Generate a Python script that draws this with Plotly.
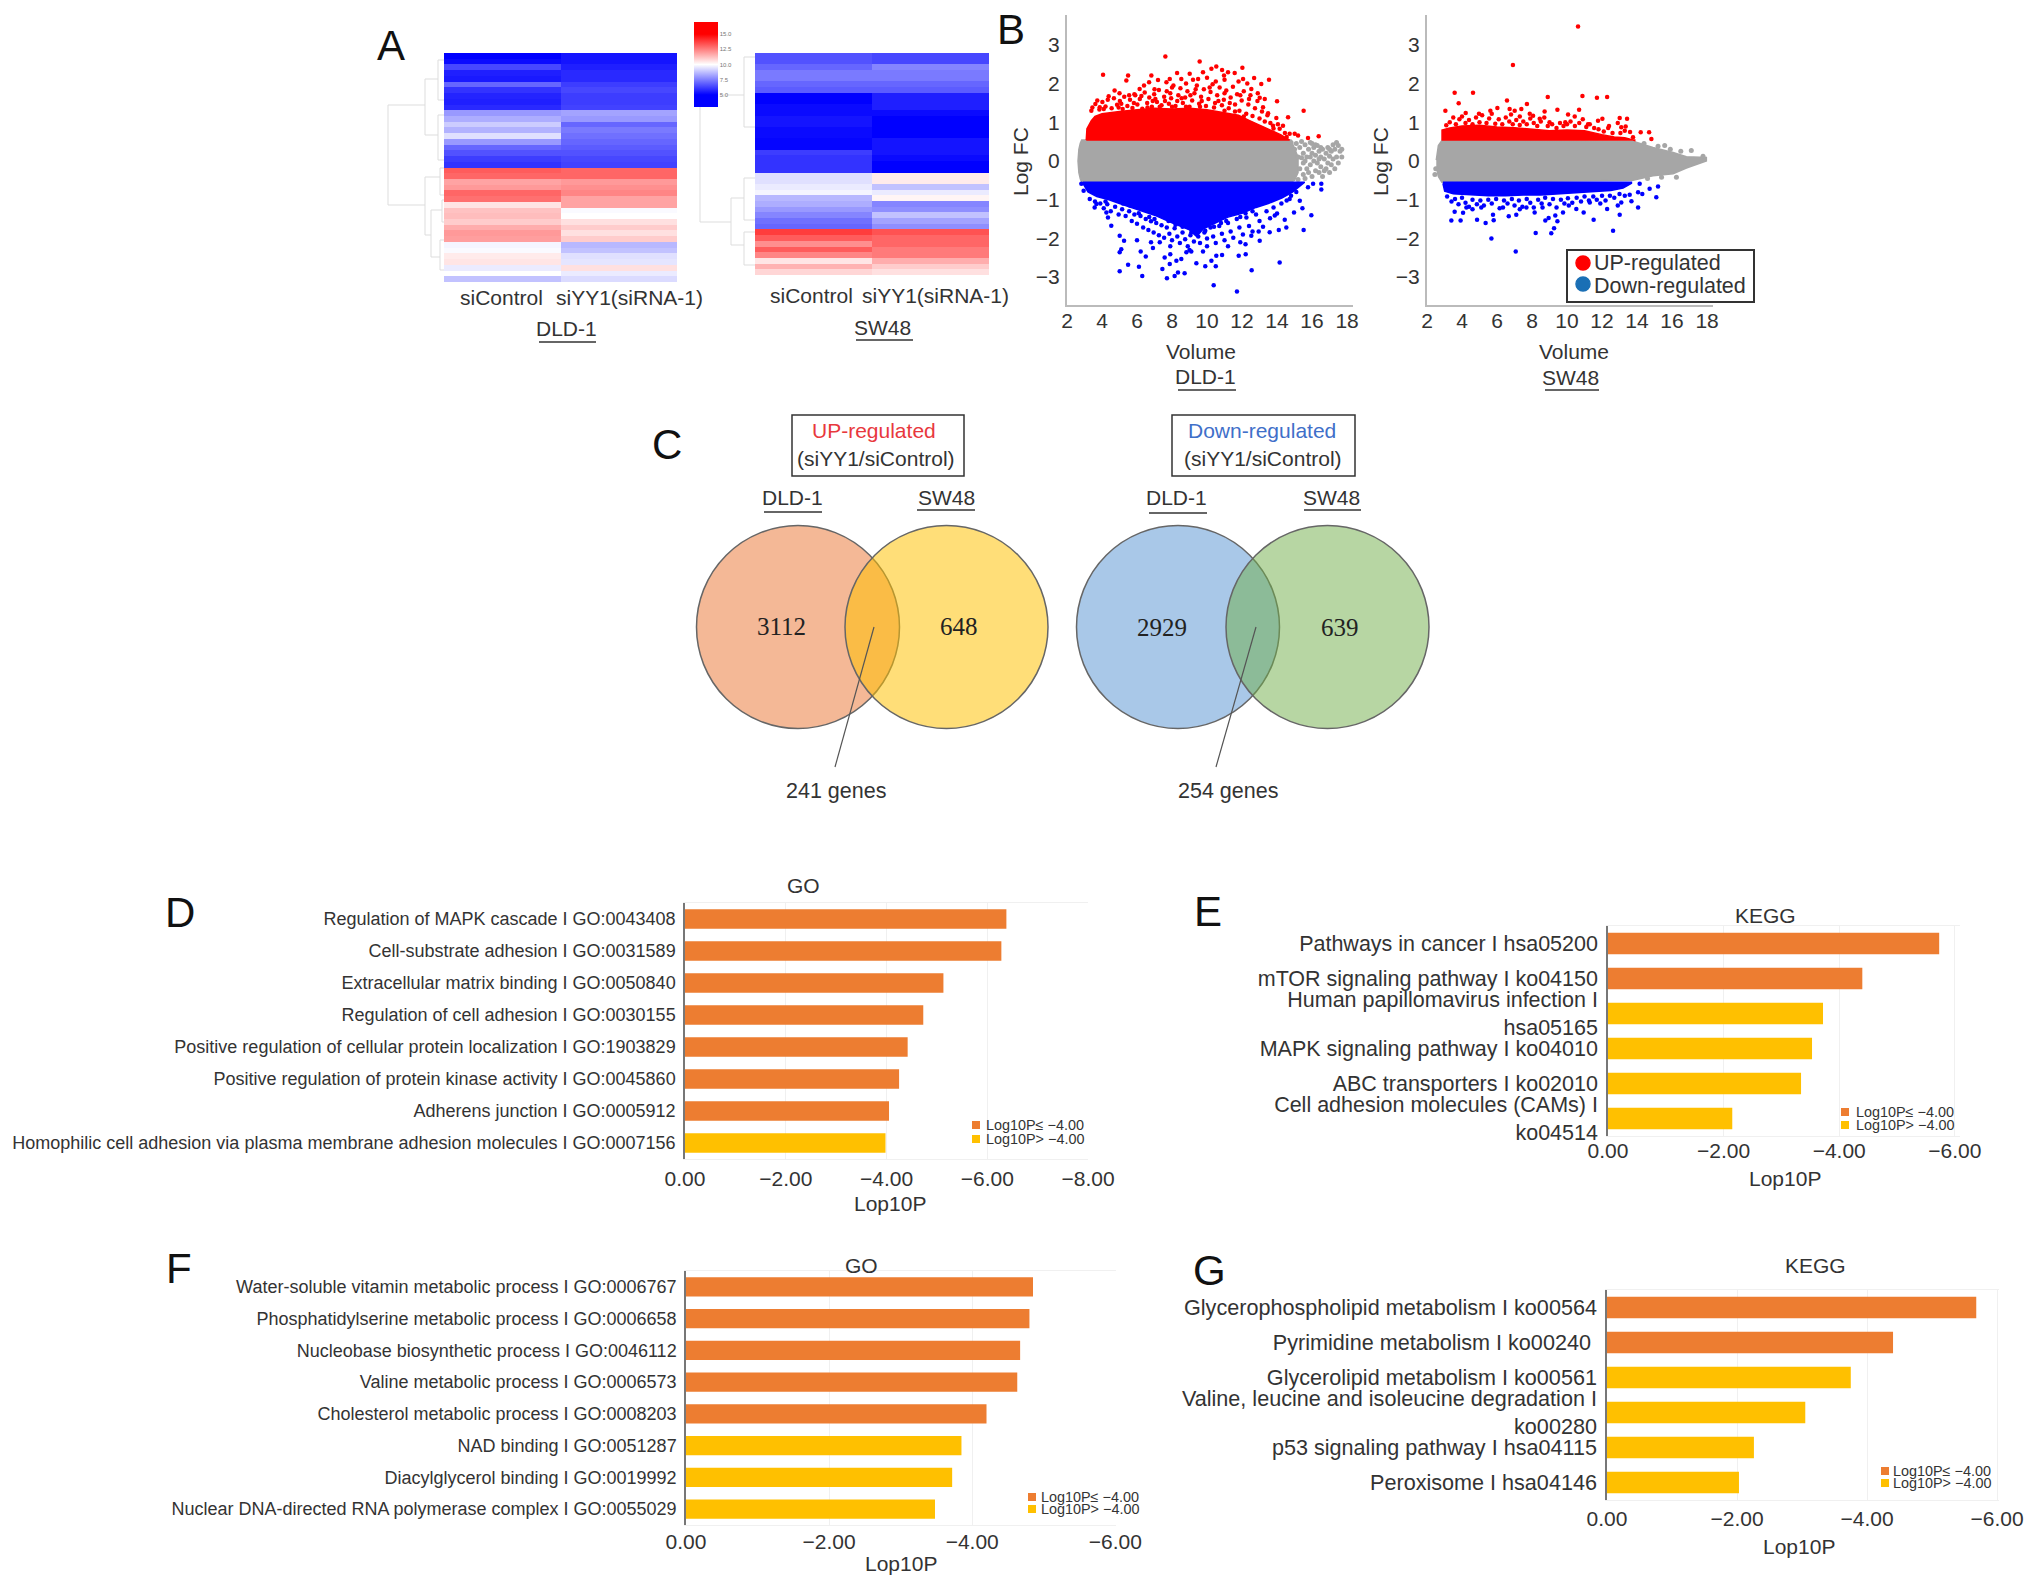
import plotly.graph_objects as go

W, H = 2032, 1589
FONT = "Liberation Sans"
TXT = "#333333"
ORANGE, YELLOW = "#ED7D31", "#FFC000"

# ---------- A: heat maps ----------
samples = ["siControl", "siYY1(siRNA-1)"]
dld_control = [5.0,5.2,6.4,5.6,5.5,7.0,6.0,5.7,5.6,5.8,8.0,8.4,9.0,8.5,9.4,8.0,7.0,6.6,6.2,6.0,
               13.2,13.0,11.8,12.0,13.0,12.8,10.5,11.2,11.3,11.0,11.6,12.0,11.9,9.8,9.9,10.4,10.5,9.6,10.0,8.8]
dld_siyy1 = [5.4,5.4,5.6,5.8,5.8,6.2,6.4,6.2,6.2,6.3,8.2,8.0,7.0,7.4,7.2,7.0,6.8,6.6,6.4,6.3,
             13.0,13.0,12.0,12.2,12.4,11.8,11.8,9.9,10.0,10.6,11.0,10.6,11.0,8.6,8.8,9.4,9.5,10.6,9.6,9.3]
sw_control = [6.6,6.6,7.0,7.4,7.4,7.0,6.8,5.0,5.0,5.2,5.2,5.4,5.4,5.2,5.2,5.1,5.1,6.2,6.0,6.0,6.0,
              9.4,9.4,9.6,9.8,8.6,8.4,8.0,7.6,7.2,7.0,
              13.8,13.2,12.2,13.2,12.4,10.5,11.5,10.8]
sw_siyy1 = [6.4,6.4,7.6,7.4,7.4,7.0,6.8,5.6,5.6,5.6,5.2,5.0,5.0,5.0,5.0,5.4,5.4,5.4,5.2,5.0,5.0,
            10.4,10.4,8.8,9.6,10.2,7.6,7.8,8.8,8.2,7.8,
            13.4,13.0,13.0,12.6,12.6,11.6,11.0,10.6]
heat_ticks = [5.0, 7.5, 10.0, 12.5, 15.0]

# ---------- B: MA plots (edge of the solid mass, then the separate dots) ----------
dld_up_edge = [(3.10,.54),(3.14,.83),(3.39,1.04),(3.6,1.15),(4,1.22),(5,1.28),(6,1.32),(7,1.36),(8,1.34),(9,1.36),(10,1.32),
 (11,1.25),(11.8,1.18),(12.4,1.05),(13,.92),(13.6,.8),(14.2,.68),(14.72,.54)]
dld_up_dots = [(7.62,2.70),(9.58,2.57),(4.06,2.23),(10.53,2.44),(10.86,2.35),(12.02,2.41),(8.29,2.27),(9.01,2.25),(9.77,2.29),
 (10.25,2.38),(11.20,2.29),(11.58,2.27),(5.49,2.21),(6.82,2.21),(5.39,2.08),(12.69,2.14),(13.54,2.10),(13.10,1.99),(12.06,2.12),
 (7.87,2.12),(7.2,2.09),(7.68,2.03),(6.15,1.86),(8.53,2.12),(9.49,2.12),(10.97,2.21),(12.53,1.86),(4.38,1.67),(3.73,1.56),
 (4.72,1.82),(14.0,1.54),(13.01,1.63),(13.2,1.39),(15.52,1.30),(14.63,1.13),(13.96,1.11),(13.49,1.23),(13.77,.91),(14.34,.91),
 (15.01,.70),(15.2,.66),(15.77,.59),(16.38,.64),(14.72,.70),(14.15,.83),(3.39,1.30),(3.87,1.39),(6.69,2.03),(8.8,2.0),(10.0,2.15),
 (10.5,2.05),(11.0,2.1),(11.8,2.05),(12.3,2.0),(9.2,2.1),(8.0,1.9),(6.4,1.95),(5.0,1.75),(5.9,1.7),(7.0,1.85),(12.9,1.75),(13.3,1.6)]
dld_up_stipple = [(3.45,1.38),(3.62,1.47),(3.85,1.33),(4.02,1.52),(4.2,1.41),(4.33,1.58),(4.55,1.36),(4.68,1.62),(4.86,1.45),(5.02,1.55),
 (5.18,1.34),(5.27,1.66),(5.45,1.42),(5.6,1.58),(5.74,1.37),(5.85,1.72),(6.02,1.46),(6.16,1.6),(6.3,1.35),(6.44,1.77),(6.58,1.5),(6.7,1.64),
 (6.85,1.4),(6.98,1.72),(7.14,1.52),(7.25,1.83),(7.4,1.44),(7.55,1.66),(7.7,1.8),(7.82,1.48),(7.95,1.62),(8.08,1.95),(8.2,1.42),(8.36,1.7),
 (8.48,1.88),(8.62,1.5),(8.75,1.64),(8.88,1.8),(9.0,1.4),(9.15,1.56),(9.28,1.75),(9.42,1.95),(9.55,1.48),(9.66,1.66),(9.82,1.85),(9.94,1.42),
 (10.08,1.6),(10.2,1.78),(10.32,1.98),(10.46,1.5),(10.58,1.7),(10.72,1.9),(10.85,1.44),(10.96,1.58),(11.1,1.82),(11.24,1.36),(11.35,1.64),
 (11.48,1.92),(11.6,1.46),(11.72,1.72),(11.85,1.3),(11.98,1.56),(12.1,1.8),(12.24,1.22),(12.36,1.46),(12.48,1.7),(12.6,1.16),(12.74,1.36),
 (12.88,1.55),(13.0,1.1),(13.14,1.28),(13.3,1.02),(13.45,1.18),(13.62,.98),(13.8,.84),(14.05,.95),(14.45,.72),(14.55,.62),(4.1,1.34),(4.95,1.38),
 (5.82,1.5),(6.6,1.38),(7.3,1.4),(8.0,1.4),(8.8,1.4),(9.6,1.4),(10.4,1.38),(11.0,1.3),(11.6,1.28),(12.1,1.15),(6.9,1.55),(7.6,1.55),(8.3,1.55),
 (9.05,1.7),(9.7,1.55),(10.65,1.55),(11.3,1.5),(5.1,1.48),(5.55,1.7),(6.25,1.68),(7.05,1.6),(7.9,1.75),(8.55,1.62),(9.35,1.85),(10.15,1.9),
 (11.0,1.75),(11.9,1.7),(12.4,1.6)]
dld_down_edge = [(2.91,-.58),(3.2,-.8),(3.7,-.92),(4.4,-1.0),(5,-1.1),(6,-1.25),(7,-1.4),(8,-1.6),(9,-1.78),(9.4,-1.95),(9.8,-1.75),
 (10.5,-1.6),(11.2,-1.45),(12,-1.35),(12.8,-1.2),(13.5,-1.1),(14.3,-.95),(14.9,-.8),(15.4,-.6),(15.58,-.55)]
dld_down_dots = [(2.82,-.59),(2.95,-.77),(3.68,-1.11),(3.58,-1.20),(4.25,-1.33),(4.34,-1.46),(4.53,-1.67),(5.01,-1.93),(5.26,-2.06),
 (5.10,-2.28),(5.01,-2.36),(6.21,-2.34),(6.50,-2.47),(5.49,-2.68),(5.01,-2.85),(6.11,-2.73),(6.30,-2.97),(7.45,-2.79),(7.71,-3.03),
 (8.15,-2.97),(8.34,-2.88),(8.72,-2.90),(7.58,-2.49),(7.87,-2.66),(7.90,-2.41),(8.25,-2.58),(8.53,-2.53),(9.39,-2.64),(9.90,-2.72),
 (10.50,-2.72),(10.25,-2.58),(10.38,-3.21),(11.71,-3.37),(12.55,-2.82),(14.15,-2.62),(10.86,-2.43),(11.81,-2.45),(12.21,-2.41),
 (10.53,-2.45),(6.91,-2.25),(7.30,-2.10),(15.52,-1.78),(14.53,-1.72),(14.10,-1.78),(13.58,-1.84),(12.95,-1.82),(15.96,-1.40),
 (15.45,-1.22),(14.97,-1.33),(14.44,-1.52),(13.87,-1.41),(14.72,-.98),(15.30,-1.03),(15.77,-.68),(16.53,-.59),(16.53,-.74),
 (16.06,-.59),(13.01,-2.06),(12.53,-1.93),(8.82,-2.36),(9.10,-2.34),(9.77,-2.34),(6.0,-2.05),(6.8,-2.1),(7.9,-2.2),(9.0,-2.3),
 (11.2,-2.2),(11.9,-2.1),(12.2,-2.15),(10.0,-2.2)]
dld_down_stipple = [(3.3,-.98),(3.6,-1.05),(3.9,-1.1),(4.1,-1.22),(4.3,-1.12),(4.5,-1.3),(4.75,-1.18),(4.95,-1.38),(5.15,-1.25),(5.35,-1.42),
 (5.55,-1.3),(5.7,-1.55),(5.85,-1.38),(6.0,-1.62),(6.2,-1.42),(6.35,-1.72),(6.5,-1.5),(6.65,-1.78),(6.8,-1.56),(6.95,-1.85),(7.1,-1.6),(7.25,-1.92),
 (7.4,-1.66),(7.55,-1.98),(7.7,-1.72),(7.85,-1.88),(8.0,-2.05),(8.15,-1.74),(8.3,-1.95),(8.45,-2.12),(8.6,-1.85),(8.75,-2.02),(8.9,-2.2),(9.05,-1.92),
 (9.25,-2.08),(9.6,-2.12),(9.85,-1.85),(10.0,-2.0),(10.2,-1.72),(10.35,-1.95),(10.5,-2.12),(10.7,-1.68),(10.85,-1.88),(11.0,-2.05),(11.2,-1.6),
 (11.35,-1.82),(11.5,-1.98),(11.7,-1.5),(11.85,-1.72),(12.05,-1.9),(12.25,-1.46),(12.4,-1.68),(12.6,-1.82),(12.8,-1.38),(13.0,-1.55),(13.2,-1.7),
 (13.4,-1.3),(13.6,-1.48),(13.8,-1.2),(14.0,-1.36),(14.25,-1.1),(14.55,-1.02),(14.8,-.9),(15.1,-.8),(5.2,-1.1),(6.1,-1.35),(7.0,-1.5),(7.8,-1.55),
 (8.6,-1.7),(9.5,-1.95),(10.4,-1.7),(11.1,-1.55),(11.9,-1.45),(12.6,-1.3),(6.7,-1.45),(8.2,-1.65),(9.1,-1.85),(9.9,-1.8),(10.8,-1.6),(12.2,-1.35),
 (5.6,-1.15),(4.2,-1.05)]
dld_mid_edge = [(2.63,.0,.0),(2.68,.3,-.3),(2.76,.46,-.46),(2.84,.54,-.55),(14.8,.54,-.55),(15.0,.3,-.5),(15.2,.1,-.3)]
dld_mid_dots = [(14.8,.48),(15.0,.3),(15.1,.45),(15.2,.1),(15.3,-.2),(15.3,.35),(15.4,.5),(15.5,.2),(15.5,-.05),(15.5,-.35),(15.6,.42),
 (15.7,.1),(15.7,-.2),(15.8,.3),(15.9,.48),(15.9,-.1),(16,.2),(16,-.4),(16.1,.35),(16.1,0),(16.2,-.25),(16.2,.15),(16.3,.4),(16.3,-.05),
 (16.4,.25),(16.4,-.3),(16.5,.1),(16.5,-.15),(16.6,.3),(16.6,-.4),(16.7,.05),(16.8,.2),(16.8,-.2),(16.9,.35),(16.9,-.05),(17,.12),(17,-.3),
 (17.1,.25),(17.1,-.1),(17.2,.42),(17.2,.05),(17.3,.3),(17.3,-.2),(17.4,.48),(17.4,.1),(17.5,.4),(17.5,-.05),(17.6,.25),(17.7,.3),(17.7,.1),
 (15.2,-.48),(15.6,.0),(15.8,-.3),(16.0,.45),(16.2,.42),(16.5,.35),(16.7,-.25),(15.4,.08),(15.6,-.45),(15.9,.1),(17.0,.3),(16.4,.05)]

sw_up_edge = [(2.86,.53),(2.86,.8),(3.3,.85),(4,.9),(5,.92),(6,.88),(7,.86),(8,.82),(9,.78),(10,.8),(11,.78),(12,.68),(12.7,.62),(13.3,.6),(13.87,.53)]
sw_up_dots = [(10.63,3.47),(6.91,2.48),(3.58,1.76),(4.63,1.76),(3.81,1.49),(3.05,1.30),(10.88,1.68),(11.71,1.63),(12.29,1.65),(8.90,1.65),
 (6.57,1.56),(7.71,1.47),(6.02,1.37),(5.62,1.30),(6.72,1.34),(7.01,1.30),(7.39,1.34),(9.45,1.32),(10.69,1.32),(8.72,1.28),(10.06,1.20),
 (10.44,1.15),(4.21,1.24),(4.97,1.22),(13.01,1.11),(13.43,1.09),(12.02,1.09),(11.77,1.04),(13.10,.87),(13.35,.89),(14.21,.74),(14.69,.74),
 (14.82,.57),(13.77,.61),(8.44,1.09),(7.87,1.22),(8.06,1.17),(6.8,1.2),(7.3,1.15),(9.0,1.0),(9.9,1.0),(11.2,.95),(12.4,.9),(13.6,.75)]
sw_up_stipple = [(3.1,.92),(3.3,1.0),(3.5,1.12),(3.65,.95),(3.85,1.08),(4.0,1.15),(4.2,.98),(4.4,1.06),(4.6,.95),(4.8,1.12),(5.0,1.0),(5.15,1.18),
 (5.4,.98),(5.55,1.1),(5.7,1.22),(5.9,.96),(6.1,1.08),(6.3,.95),(6.5,1.12),(6.7,1.02),(6.9,.95),(7.1,1.06),(7.3,.93),(7.5,1.02),(7.7,.95),(7.9,1.1),
 (8.1,.98),(8.3,.9),(8.5,1.02),(8.7,1.12),(8.9,.9),(9.15,.95),(9.4,.85),(9.6,.98),(9.8,.9),(10.0,.95),(10.2,1.02),(10.45,.9),(10.7,.98),(10.9,1.08),
 (11.1,.88),(11.3,.95),(11.55,.85),(11.8,.82),(12.1,.76),(12.35,.85),(12.6,.72),(12.9,.98),(13.05,.72),(13.3,.78)]
sw_down_edge = [(2.91,-.58),(3.01,-.78),(3.5,-.85),(4.5,-.88),(5.5,-.9),(6.5,-.9),(7.5,-.88),(8.5,-.88),(9.5,-.85),(10.5,-.82),(11.5,-.8),(12.5,-.76),(13.2,-.7),(13.68,-.58)]
sw_down_dots = [(3.39,-1.54),(3.92,-1.54),(4.86,-1.52),(5.35,-1.60),(5.81,-1.53),(5.68,-2.0),(7.07,-2.34),(8.21,-1.86),(9.10,-1.87),(9.26,-1.74),
 (12.63,-1.80),(11.52,-1.52),(13.01,-1.39),(8.76,-1.54),(8.95,-1.47),(9.45,-1.56),(9.33,-1.41),(3.58,-1.31),(4.06,-1.34),(5.77,-1.39),
 (6.67,-1.43),(7.10,-1.39),(8.15,-1.33),(9.77,-1.33),(10.95,-1.33),(12.29,-1.24),(13.10,-1.07),(14.06,-1.20),(15.2,-.66),(15.10,-.94),
 (14.15,-.59),(14.72,-.72),(14.06,-.81),(13.58,-.87),(13.68,-1.04),(4.25,-1.20),(6.34,-1.20),(7.68,-1.20),(10.53,-1.24),(11.30,-1.07),
 (4.6,-1.25),(5.1,-1.2),(7.3,-1.25),(8.6,-1.2),(10.1,-1.15),(11.9,-1.1),(12.9,-1.15),(14.3,-.85)]
sw_down_stipple = [(3.15,-.92),(3.4,-1.05),(3.6,-.98),(3.8,-1.12),(4.0,-.95),(4.2,-1.08),(4.4,-1.18),(4.6,-1.0),(4.85,-1.12),(5.05,-1.02),(5.25,-1.15),
 (5.5,-1.0),(5.7,-1.1),(5.95,-.98),(6.15,-1.22),(6.4,-1.02),(6.6,-1.1),(6.85,-.98),(7.0,-1.15),(7.25,-1.02),(7.45,-1.18),(7.7,-.98),(7.9,-1.08),(8.1,-1.2),
 (8.35,-1.0),(8.55,-1.1),(8.75,-.95),(9.0,-1.12),(9.2,-.98),(9.4,-1.2),(9.65,-1.0),(9.85,-1.1),(10.05,-.96),(10.3,-1.08),(10.55,-.95),(10.8,-1.05),
 (11.0,-.92),(11.25,-1.02),(11.5,-.92),(11.7,-1.0),(12.0,-.9),(12.2,-1.02),(12.45,-.9),(12.7,-.95),(13.0,-.85),(13.3,-.9)]
sw_mid_edge = [(2.53,.02,-.15),(2.65,.4,-.4),(2.85,.53,-.55),(13.77,.51,-.5),(14.91,.35,-.38),(16.06,.22,-.33),(16.82,.11,-.18),(17.96,.09,.0)]
sw_mid_dots = [(15.58,.40),(17.1,.27),(16.25,-.42),(17.77,.12),(14.4,.45),(15.2,.38),(15.9,.3),(16.5,.25),(15.4,-.42),(14.6,-.45),(2.45,-.35),(2.5,-.2)]

# ---------- C: Venn counts ----------
venn_left = ["3112", "648"]
venn_right = ["2929", "639"]

# ---------- D-G: enrichment bars ----------
d_terms = ["Regulation of MAPK cascade I GO:0043408","Cell-substrate adhesion I GO:0031589","Extracellular matrix binding I GO:0050840",
           "Regulation of cell adhesion I GO:0030155","Positive regulation of cellular protein localization I GO:1903829",
           "Positive regulation of protein kinase activity I GO:0045860","Adherens junction I GO:0005912",
           "Homophilic cell adhesion via plasma membrane adhesion molecules I GO:0007156"]
d_vals = [-6.38,-6.28,-5.13,-4.73,-4.42,-4.25,-4.05,-3.98]
e_terms = ["Pathways in cancer I hsa05200","mTOR signaling pathway I ko04150","Human papillomavirus infection I<br>hsa05165",
           "MAPK signaling pathway I ko04010","ABC transporters I ko02010","Cell adhesion molecules (CAMs) I<br>ko04514"]
e_vals = [-5.73,-4.40,-3.72,-3.53,-3.34,-2.15]
f_terms = ["Water-soluble vitamin metabolic process I GO:0006767","Phosphatidylserine metabolic process I GO:0006658",
           "Nucleobase biosynthetic process I GO:0046112","Valine metabolic process I GO:0006573",
           "Cholesterol metabolic process I GO:0008203","NAD binding I GO:0051287","Diacylglycerol binding I GO:0019992",
           "Nuclear DNA-directed RNA polymerase complex I GO:0055029"]
f_vals = [-4.85,-4.80,-4.67,-4.63,-4.20,-3.85,-3.72,-3.48]
g_terms = ["Glycerophospholipid metabolism I ko00564","Pyrimidine metabolism I ko00240\u00a0","Glycerolipid metabolism I ko00561",
           "Valine, leucine and isoleucine degradation I<br>ko00280","p53 signaling pathway I hsa04115","Peroxisome I hsa04146"]
g_vals = [-5.68,-4.40,-3.75,-3.05,-2.26,-2.03]
bar_cut = -4.0
legend_text = ["Log10P\u2264 \u22124.00", "Log10P> \u22124.00"]

# ---------- helpers ----------
fig = go.Figure()
layout = {}
annots, shapes = [], []
n_ax = [0]

def px(x): return x / W
def py(y): return 1 - y / H

def new_axes(x0, x1, y0, y1, xopts, yopts):
    n_ax[0] += 1
    n = n_ax[0]
    sx = "" if n == 1 else str(n)
    layout["xaxis" + sx] = dict(domain=[px(x0), px(x1)], anchor="y" + sx, **xopts)
    layout["yaxis" + sx] = dict(domain=[py(y1), py(y0)], anchor="x" + sx, **yopts)
    return "x" + sx, "y" + sx

def text(x, y, s, size=21, color=TXT, family=FONT, anchor="center", angle=0):
    annots.append(dict(x=px(x), y=py(y), xref="paper", yref="paper", text=s, showarrow=False, xanchor=anchor, yanchor="middle",
                       textangle=angle, font=dict(size=size, color=color, family=family), borderpad=0, borderwidth=0))

def seg(x0, y0, x1, y1, color="#DDDDDD", width=1):
    shapes.append(dict(type="line", xref="paper", yref="paper", x0=px(x0), y0=py(y0), x1=px(x1), y1=py(y1),
                       line=dict(color=color, width=width)))

def rect(x0, y0, x1, y1, fill="rgba(0,0,0,0)", line="#333333", width=1.5):
    shapes.append(dict(type="rect", xref="paper", yref="paper", x0=px(x0), y0=py(y0), x1=px(x1), y1=py(y1),
                       fillcolor=fill, line=dict(color=line, width=width)))

def circle(cx, cy, r, fill, line="#666666"):
    shapes.append(dict(type="circle", xref="paper", yref="paper", x0=px(cx-r), y0=py(cy+r), x1=px(cx+r), y1=py(cy-r),
                       fillcolor=fill, line=dict(color=line, width=1.5)))

for s, x, y in [("A",391,45),("B",1011,29),("C",667,444),("D",180,912),("E",1208,911),("F",179,1268),("G",1209,1270)]:
    text(x, y, s, size=42, color="#111111")

# ---------- A ----------
HEAT_SCALE = [[0,"#0000FF"],[0.143,"#0000FF"],[0.5,"#FFFFFF"],[0.857,"#FF0000"],[1,"#FF0000"]]
hidden = dict(visible=False, showgrid=False, zeroline=False)
def heat(x0, x1, y0, y1, a, b, bar=False):
    xa, ya = new_axes(x0, x1, y0, y1, dict(hidden), dict(hidden, autorange="reversed"))
    tr = go.Heatmap(z=[list(r) for r in zip(a, b)], x=samples, xaxis=xa, yaxis=ya, zmin=3, zmax=17, colorscale=HEAT_SCALE,
                    showscale=bar, hoverinfo="skip")
    if bar:
        tr.colorbar = dict(x=px(694), xanchor="left", y=py(107), yanchor="bottom", len=85, lenmode="pixels",
                           thickness=24, thicknessmode="pixels", outlinewidth=0, ticks="", tickvals=heat_ticks,
                           ticktext=[f"{v:.1f}" for v in heat_ticks], ticklabelposition="outside",
                           tickfont=dict(size=6, color="#777777", family=FONT), xpad=0, ypad=0)
    fig.add_trace(tr)

heat(444, 677, 53, 282, dld_control, dld_siyy1, bar=True)
heat(755, 989, 53, 275, sw_control, sw_siyy1)

text(501, 298, "siControl"); text(629, 298, "siYY1(siRNA-1)")
text(566, 328, "DLD-1"); seg(539, 342, 596, 342, "#333333", 1.5)
text(811, 295, "siControl"); text(935, 295, "siYY1(siRNA-1)")
text(882, 327, "SW48"); seg(856, 340, 913, 340, "#333333", 1.5)

for s in [(388,105,388,205),(388,105,425,105),(425,79,425,135),(425,79,438,79),(438,60,438,100),(425,135,438,135),(438,115,438,160),
          (388,205,425,205),(425,177,425,235),(425,177,440,177),(440,168,440,195),(425,235,431,235),(431,210,431,257),(431,210,442,210),
          (442,200,442,222),(431,257,440,257),(440,240,440,270),(438,60,444,60),(438,100,444,100),(438,115,444,115),(438,160,444,160),
          (440,168,444,168),(440,195,444,195),(442,200,444,200),(442,222,444,222),(440,240,444,240),(440,270,444,270),
          (700,107,700,222),(700,222,731,222),(731,198,731,245),(731,198,744,198),(744,178,744,220),(731,245,744,245),(744,232,744,265),
          (720,95,744,95),(744,57,744,127),(744,57,755,57),(744,127,755,127),(744,178,755,178),(744,220,755,220),(744,232,755,232),(744,265,755,265)]:
    seg(*s)

# ---------- B ----------
def ma_panel(x0, x1, mid_edge, mid_dots, up_edge, up_dots, down_edge, down_dots):
    base = dict(showgrid=False, zeroline=False, showline=True, linecolor="#BBBBBB", linewidth=2,
                tickfont=dict(size=21, color=TXT, family=FONT), ticks="")
    xa, ya = new_axes(x0, x1, 15, 305,
                      dict(base, range=[2, 18.34], tickvals=list(range(2, 19, 2)), ticklabelstandoff=-4),
                      dict(base, range=[-3.72, 3.77], tickvals=list(range(-3, 4)), ticklabelstandoff=1))
    for pts_edge, pts_dots, col, size in [(mid_edge, mid_dots, "#A6A6A6", 5), (up_edge, up_dots, "#FF0000", 4.5), (down_edge, down_dots, "#0000FF", 4.5)]:
        if col == "#A6A6A6":
            ex = [p[0] for p in pts_edge] + [p[0] for p in reversed(pts_edge)]
            ey = [p[1] for p in pts_edge] + [p[2] for p in reversed(pts_edge)]
        else:
            lim = 0.54 if col == "#FF0000" else -0.55
            ex = [p[0] for p in pts_edge] + [pts_edge[-1][0], pts_edge[0][0]]
            ey = [p[1] for p in pts_edge] + [lim, lim]
        fig.add_trace(go.Scatter(x=ex, y=ey, xaxis=xa, yaxis=ya, mode="lines", fill="toself", fillcolor=col,
                                 line=dict(color=col, width=1.5), hoverinfo="skip", showlegend=False))
        fig.add_trace(go.Scatter(x=[p[0] for p in pts_dots], y=[p[1] for p in pts_dots], xaxis=xa, yaxis=ya, mode="markers",
                                 marker=dict(color=col, size=size), hoverinfo="skip", showlegend=False))

ma_panel(1067, 1353, dld_mid_edge, dld_mid_dots, dld_up_edge, dld_up_dots + dld_up_stipple, dld_down_edge, dld_down_dots + dld_down_stipple)
ma_panel(1427, 1713, sw_mid_edge, sw_mid_dots, sw_up_edge, sw_up_dots + sw_up_stipple, sw_down_edge, sw_down_dots + sw_down_stipple)

text(1020, 162, "Log FC", angle=-90); text(1380, 162, "Log FC", angle=-90)
text(1201, 352, "Volume"); text(1574, 352, "Volume")
text(1205, 376, "DLD-1"); seg(1178, 390, 1236, 390, "#333333", 1.5)
text(1570, 378, "SW48"); seg(1545, 390, 1599, 390, "#333333", 1.5)
rect(1567, 250, 1754, 302, "#FFFFFF", "#333333", 2)
circle(1583, 263, 7, "#FF0000", "#FF0000"); circle(1583, 284, 7, "#1A6FB5", "#1A6FB5")
text(1594, 263, "UP-regulated", 21.5, anchor="left"); text(1594, 286, "Down-regulated", 21.5, anchor="left")

# ---------- C ----------
circle(798, 627, 101.5, "#F4B896"); circle(946.5, 627, 101.5, "rgba(255,192,0,0.53)")
circle(1178, 627, 101.5, "#A9C8E8"); circle(1327.5, 627, 101.5, "rgba(112,173,71,0.5)")
for x, s in zip([781, 959], venn_left): text(x, 626, s, 25, "#222222", "Liberation Serif")
for x, s in zip([1162, 1340], venn_right): text(x, 627, s, 25, "#222222", "Liberation Serif")
seg(874, 627, 835, 767, "#555555", 1.2); seg(1256, 627, 1216, 767, "#555555", 1.2)
text(836, 791, "241 genes", 21.5); text(1228, 791, "254 genes", 21.5)
rect(792, 415, 964, 476); rect(1172, 415, 1355, 476)
text(874, 431, "UP-regulated", 21, "#E8383D"); text(876, 459, "(siYY1/siControl)")
text(1262, 431, "Down-regulated", 21, "#3F6FC9"); text(1263, 459, "(siYY1/siControl)")
for x, s in [(792,"DLD-1"),(946,"SW48"),(1176,"DLD-1"),(1331,"SW48")]: text(x, 497, s)
for a, b, y in [(764,822,512),(917,975,510),(1149,1207,513),(1304,1361,510)]: seg(a, y, b, y, "#333333", 1.5)

# ---------- D-G ----------
def bars(x0, x1, y0, y1, terms, vals, xmax, ysize, standoff):
    xa, ya = new_axes(x0, x1, y0, y1,
        dict(range=[0, xmax], tickvals=[0, -2, -4, -6] + ([-8] if xmax < -7 else []), tickformat=".2f", showgrid=True, gridcolor="#F0F0F0",
             zeroline=False, showline=True, linecolor="#F0F0F0", mirror=True, ticks="", ticklabelstandoff=standoff,
             tickfont=dict(size=21, color=TXT, family=FONT)),
        dict(type="category", autorange="reversed", showgrid=False, zeroline=False, showline=True, linecolor="#777777", linewidth=1.5,
             ticks="", tickfont=dict(size=ysize, color=TXT, family=FONT), ticklabelstandoff=4))
    fig.add_trace(go.Bar(x=vals, y=terms, orientation="h", xaxis=xa, yaxis=ya, width=0.61,
                         marker=dict(color=[ORANGE if v <= bar_cut else YELLOW for v in vals], line=dict(width=0)),
                         hoverinfo="skip", showlegend=False))

def bar_legend(xs, xt, y1, y2, size=14.4):
    for y, c, s in zip((y1, y2), (ORANGE, YELLOW), legend_text):
        rect(xs - 4, y - 4, xs + 4, y + 4, c, c, 0)
        text(xt, y, s, size, anchor="left")

bars(685, 1088, 903, 1159, d_terms, d_vals, -8.0, 18, 1)
text(803, 886, "GO"); text(890, 1203, "Lop10P"); bar_legend(976, 986, 1125, 1139)
bars(1608, 1960, 926, 1136, e_terms, e_vals, -6.09, 21.5, -4)
text(1765, 915, "KEGG"); text(1785, 1178, "Lop10P"); bar_legend(1845, 1856, 1112, 1125)
bars(686, 1116, 1271, 1525, f_terms, f_vals, -6.01, 18, -2)
text(861, 1265, "GO"); text(901, 1563, "Lop10P"); bar_legend(1032, 1041, 1497, 1509)
bars(1607, 1999, 1290, 1500, g_terms, g_vals, -6.03, 21.6, 0)
text(1815, 1265, "KEGG"); text(1799, 1546, "Lop10P"); bar_legend(1885, 1893, 1471, 1483)

fig.update_layout(width=W, height=H, margin=dict(l=0, r=0, t=0, b=0, autoexpand=False), paper_bgcolor="white", plot_bgcolor="rgba(0,0,0,0)",
                  showlegend=False, annotations=annots, shapes=shapes, font=dict(family=FONT, color=TXT), **layout)
fig.write_html("out.html", post_script="document.body.style.margin='0';", config={"displayModeBar": False})
